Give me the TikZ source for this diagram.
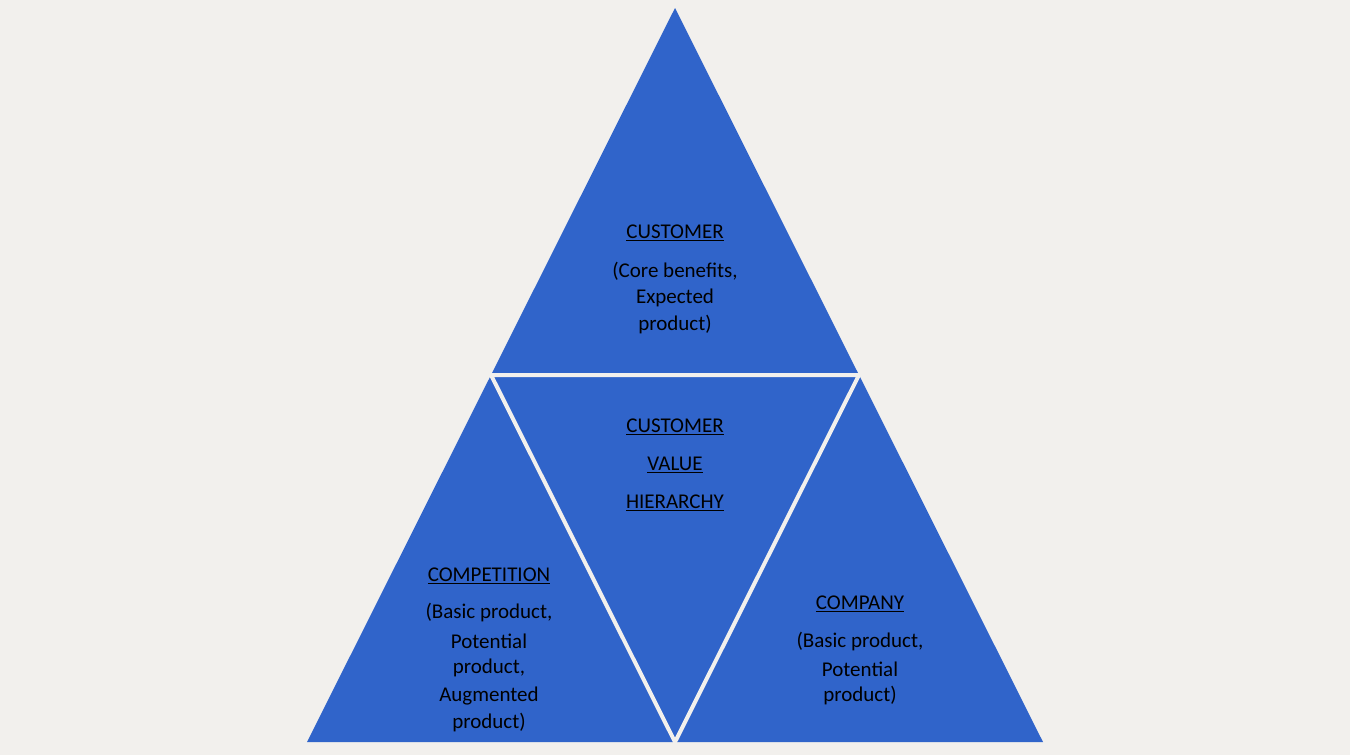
\documentclass[tikz,border=0pt]{standalone}
\usepackage{fontspec}
\setmainfont{Carlito}
\definecolor{bg}{HTML}{F2F0ED}
\definecolor{tri}{HTML}{3064CA}
\tikzset{lbl/.style={font=\fontsize{21}{21}\selectfont, inner sep=0pt, text=black}}
\newcommand{\ul}[1]{\underline{#1}}
\begin{document}
\begin{tikzpicture}[x=1pt,y=-1pt]
\fill[bg] (0,0) rectangle (1350,755);
\useasboundingbox (0,0) rectangle (1350,755);
\coordinate (A) at (675,8);
\coordinate (L) at (307,742);
\coordinate (R) at (1043,742);
\coordinate (ML) at (491,375);
\coordinate (MR) at (859,375);
\coordinate (MB) at (675,742);
\fill[tri] (A) -- (L) -- (R) -- cycle;
\draw[bg, line width=4pt, line join=miter] (ML) -- (MR) -- (MB) -- cycle;
\node[lbl] (c1) at (675,233) {\ul{CUSTOMER}};
\node[lbl] (c2) at (675,271) {(Core benefits,};
\node[lbl] (c3) at (675,298) {Expected};
\node[lbl] (c4) at (675,325) {product)};
\node[lbl] (m1) at (675,427) {\ul{CUSTOMER}};
\node[lbl] (m2) at (675,465) {\ul{VALUE}};
\node[lbl] (m3) at (675,503) {\ul{HIERARCHY}};
\node[lbl] (p1) at (489,576) {\ul{COMPETITION}};
\node[lbl] (p2) at (489,613) {(Basic product,};
\node[lbl] (p3) at (489,641) {Potential};
\node[lbl] (p4) at (489,668) {product,};
\node[lbl] (p5) at (489,696) {Augmented};
\node[lbl] (p6) at (489,723) {product)};
\node[lbl] (k1) at (860,604) {\ul{COMPANY}};
\node[lbl] (k2) at (860,642) {(Basic product,};
\node[lbl] (k3) at (860,669) {Potential};
\node[lbl] (k4) at (860,696) {product)};
\end{tikzpicture}
\end{document}
